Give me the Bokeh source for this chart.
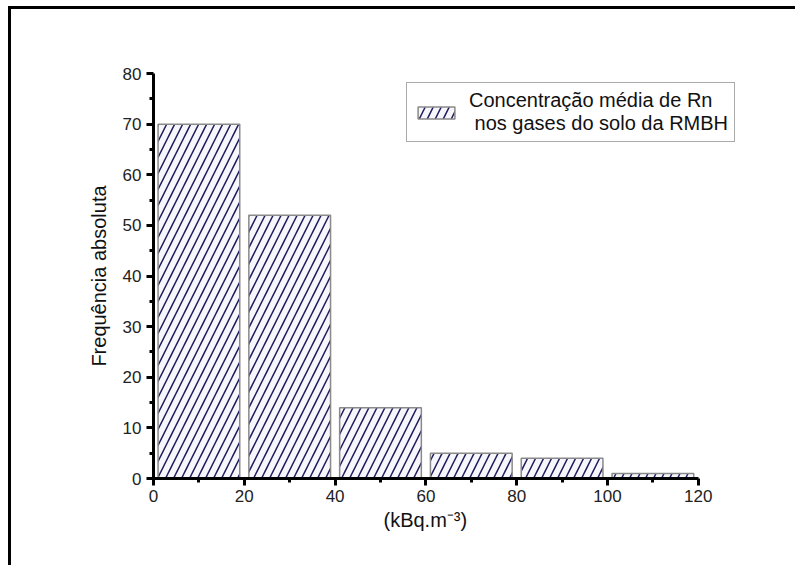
from bokeh.plotting import figure
from bokeh.models import ColumnDataSource, Legend, LegendItem, Range1d, FixedTicker, Title
from bokeh.embed import file_html
from bokeh.resources import INLINE

bin_start = [0, 20, 40, 60, 80, 100]
bin_end = [20, 40, 60, 80, 100, 120]
frequencia = [70, 52, 14, 5, 4, 1]
x_ticks = [0, 20, 40, 60, 80, 100, 120]
x_minor = [10, 30, 50, 70, 90, 110]
y_ticks = [0, 10, 20, 30, 40, 50, 60, 70, 80]
y_minor = [5, 15, 25, 35, 45, 55, 65, 75]
serie_label = "Concentração média de Rn\n nos gases do solo da RMBH"
x_label = "(kBq.m⁻³)"
y_label = "Frequência absoluta"

centers = [(a + b) / 2 for a, b in zip(bin_start, bin_end)]
src = ColumnDataSource(dict(x=centers, top=frequencia))

FONT = "Liberation Sans"

# frame extends past 120 so the legend box is not clipped;
# the axis line itself is bounded to 0..120
p = figure(width=787, height=559, output_backend="svg", toolbar_location=None,
           x_range=Range1d(0, 131.5), y_range=Range1d(0, 80),
           min_border_left=142, min_border_top=64, min_border_right=48,
           min_border_bottom=90, margin=(6, 0, 0, 8),
           styles={"border-top": "3px solid black", "border-left": "3px solid black"})
p.grid.visible = False
p.outline_line_color = None
p.background_fill_color = "white"
p.border_fill_color = "white"

r = p.vbar(x="x", top="top", width=18, source=src, bottom=0,
           fill_color="#f6f6fc", line_color="#8a8a8a", line_width=1.5,
           hatch_pattern="/", hatch_color="#1c1c5c", hatch_scale=16, hatch_weight=1.5)

for ax in (p.xaxis[0], p.yaxis[0]):
    ax.axis_line_width = 3
    ax.axis_line_color = "black"
    ax.major_tick_line_width = 3
    ax.major_tick_out = 7
    ax.major_tick_in = 0
    ax.minor_tick_line_width = 3
    ax.minor_tick_out = 4
    ax.minor_tick_in = 0
    ax.major_label_text_font = FONT
    ax.major_label_text_font_size = "17px"
    ax.major_label_text_color = "#222222"
    ax.axis_label_text_font = FONT
    ax.axis_label_text_font_size = "20px"
    ax.axis_label_text_font_style = "normal"
    ax.axis_label_text_color = "#111111"

p.xaxis[0].bounds = (0, 120)
p.xaxis[0].ticker = FixedTicker(ticks=x_ticks, minor_ticks=x_minor)
p.yaxis[0].ticker = FixedTicker(ticks=y_ticks, minor_ticks=y_minor)
p.yaxis.axis_label = y_label
p.yaxis.axis_label_standoff = 10
p.xaxis.major_label_standoff = 4
p.yaxis.major_label_standoff = 5

# x label as a below-title so it can be centred on the 0..120 span
xt = Title(text=x_label, align="left", offset=230, text_font=FONT,
           text_font_size="20px", text_font_style="normal", text_color="#111111",
           standoff=4)
p.add_layout(xt, "below")

legend = Legend(items=[LegendItem(label=serie_label, renderers=[r])],
                location=(253, 336), border_line_color="#555555", border_line_width=1.5,
                label_text_font=FONT, label_text_font_size="20px",
                label_text_color="#111111", glyph_width=46, glyph_height=15,
                padding=6, spacing=0, margin=0, label_standoff=10)
p.add_layout(legend, "center")

open("out.html", "w").write(file_html(p, INLINE))
